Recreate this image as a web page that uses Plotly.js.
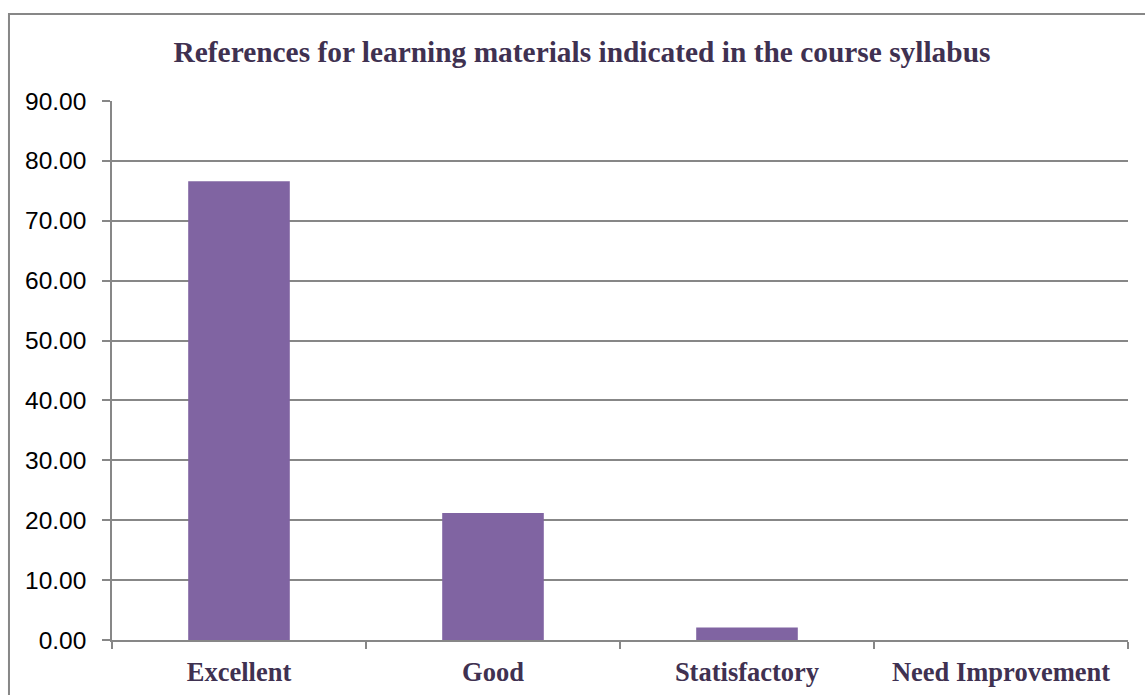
<!DOCTYPE html>
<html>
<head>
<meta charset="utf-8">
<script src="https://cdn.plot.ly/plotly-3.0.1.min.js"></script>
<style>
  html, body { margin: 0; padding: 0; background: #ffffff; }
  #chart { width: 1145px; height: 695px; }
</style>
</head>
<body>
<div id="chart"></div>
<script>
// Data
const categories = ["Excellent", "Good", "Statisfactory", "Need Improvement"];
const values = [76.6, 21.2, 2.1, 0];
const chartTitle = "References for learning materials indicated in the course syllabus";

const gray = "#878787";
const titleColor = "#3f3151";

const trace = {
  type: "bar",
  x: categories,
  y: values,
  marker: { color: "#8064a2" },
  hoverinfo: "x+y"
};

const layout = {
  width: 1145,
  height: 695,
  margin: { l: 112, r: 17, t: 101, b: 55, pad: 0 },
  paper_bgcolor: "#ffffff",
  plot_bgcolor: "#ffffff",
  showlegend: false,
  bargap: 0.6,
  title: {
    text: "<b>" + chartTitle + "</b>",
    font: { family: "Liberation Serif, Times New Roman, serif", size: 29.4, color: titleColor },
    xref: "container", x: 0.5083, xanchor: "center",
    yref: "container", y: 0.925, yanchor: "middle"
  },
  xaxis: {
    type: "category",
    showline: true, linecolor: gray, linewidth: 1.5,
    ticks: "outside", tickson: "boundaries", ticklen: 7, tickcolor: gray, tickwidth: 1.5,
    showgrid: false, zeroline: false,
    tickfont: { family: "Liberation Serif, Times New Roman, serif", size: 26.5, color: titleColor, weight: "bold" },
    ticklabelstandoff: 7
  },
  yaxis: {
    range: [0, 90], dtick: 10, tick0: 0, tickformat: ".2f",
    showline: true, linecolor: gray, linewidth: 1.5,
    ticks: "outside", ticklen: 8, tickcolor: gray, tickwidth: 1.5,
    showgrid: true, gridcolor: gray, gridwidth: 1.5,
    zeroline: false,
    tickfont: { family: "Liberation Sans, Arial, sans-serif", size: 24.5, color: "#000000" },
    ticklabelstandoff: 11
  },
  shapes: [
    { type: "rect", xref: "paper", yref: "paper",
      x0: -0.1014, x1: 1.2, y0: -0.2, y1: 1.1614,
      line: { color: gray, width: 2 }, fillcolor: "rgba(0,0,0,0)", layer: "below" }
  ]
};

Plotly.newPlot("chart", [trace], layout, { displayModeBar: false, staticPlot: false });
</script>
</body>
</html>
